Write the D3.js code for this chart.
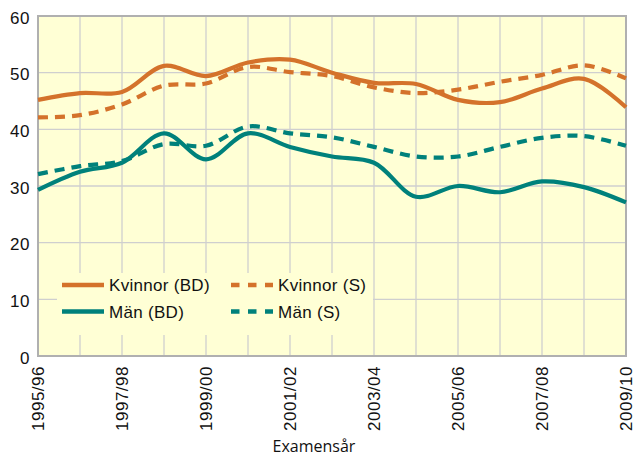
<!DOCTYPE html>
<meta charset="utf-8">
<script src="https://d3js.org/d3.v7.min.js"></script>
<style>
  body { margin: 0; background: #fff; }
  text { font-family: "Liberation Sans", Arial, sans-serif; fill: #111; }
</style>
<div id="chart"></div>
<script>

// data
var years = ["1995/96","1996/97","1997/98","1998/99","1999/00","2000/01","2001/02",
             "2002/03","2003/04","2004/05","2005/06","2006/07","2007/08","2008/09","2009/10"];
var kvinnorBD = [45.2, 46.4, 46.6, 51.2, 49.4, 51.8, 52.3, 50.0, 48.2, 48.0, 45.2, 44.8, 47.2, 48.9, 43.9];
var kvinnorS  = [42.1, 42.5, 44.4, 47.7, 48.1, 51.0, 50.1, 49.4, 47.4, 46.4, 47.0, 48.4, 49.6, 51.3, 49.0];
var manBD     = [29.3, 32.5, 34.1, 39.3, 34.7, 39.3, 36.9, 35.2, 34.1, 28.1, 30.0, 28.9, 30.8, 29.8, 27.1];
var manS      = [32.1, 33.5, 34.4, 37.4, 37.1, 40.5, 39.3, 38.6, 36.9, 35.2, 35.2, 36.9, 38.5, 38.8, 37.1];
var labelYears = ["1995/96","1997/98","1999/00","2001/02","2003/04","2005/06","2007/08","2009/10"];
var yTicks = [0, 10, 20, 30, 40, 50, 60];

var orange = "#d4722b", teal = "#00817b";

var series = [
  {name: "Kvinnor (BD)", values: kvinnorBD, color: orange, dash: null},
  {name: "Kvinnor (S)",  values: kvinnorS,  color: orange, dash: "10,7"},
  {name: "Män (BD)",     values: manBD,     color: teal,   dash: null},
  {name: "Män (S)",      values: manS,      color: teal,   dash: "10,7"}
];

var W = 635, H = 457;
var margin = {top: 16, right: 9, bottom: 101, left: 38},
    width = W - margin.left - margin.right,
    height = H - margin.top - margin.bottom;

var svg = d3.select("#chart").append("svg")
    .attr("width", W).attr("height", H);

var g = svg.append("g")
    .attr("transform", "translate(" + margin.left + "," + margin.top + ")");

var x = d3.scalePoint().domain(years).range([0, width]);
var y = d3.scaleLinear().domain([0, 60]).range([height, 0]);

// plot background
g.append("rect")
  .attr("width", width).attr("height", height)
  .attr("fill", "#ffffd5");

// grid
g.selectAll(".vgrid").data(years).enter().append("line")
  .attr("x1", d => x(d)).attr("x2", d => x(d))
  .attr("y1", 0).attr("y2", height)
  .attr("stroke", "#cfcfcf").attr("stroke-width", 1.3);
g.selectAll(".hgrid").data(yTicks).enter().append("line")
  .attr("x1", 0).attr("x2", width)
  .attr("y1", d => y(d)).attr("y2", d => y(d))
  .attr("stroke", "#cfcfcf").attr("stroke-width", 1.3);

// frame
g.append("rect")
  .attr("width", width).attr("height", height)
  .attr("fill", "none").attr("stroke", "#b0b0b0").attr("stroke-width", 2);

// legend box covers grid
g.append("rect")
  .attr("x", 57 - margin.left).attr("y", 273 - margin.top)
  .attr("width", 316).attr("height", 62)
  .attr("fill", "#ffffd5");

// lines
var line = d3.line()
  .x((d, i) => x(years[i]))
  .y(d => y(d))
  .curve(d3.curveCatmullRom.alpha(0.5));

series.forEach(function(s) {
  g.append("path")
    .attr("d", line(s.values))
    .attr("fill", "none")
    .attr("stroke", s.color)
    .attr("stroke-width", 4.2)
    .attr("stroke-dasharray", s.dash);
});

// y axis labels
g.selectAll(".ylab").data(yTicks).enter().append("text")
  .attr("x", -8).attr("y", d => y(d) + 7.5)
  .attr("text-anchor", "end")
  .style("font-size", "17px").style("letter-spacing", "0.5px")
  .text(d => d);

// x axis labels
g.selectAll(".xlab").data(labelYears).enter().append("text")
  .attr("transform", d => "translate(" + (x(d) + 6) + "," + (height + 10) + ") rotate(-90)")
  .attr("text-anchor", "end")
  .style("font-size", "17px").style("letter-spacing", "0.5px")
  .text(d => d);

svg.append("text")
  .attr("x", 314).attr("y", 452)
  .attr("text-anchor", "middle")
  .style("font-family", "'Open Sans', sans-serif")
  .style("font-size", "16px")
  .text("Examensår");

// legend
var leg = [
  {s: series[0], lx: 62, ly: 285},
  {s: series[1], lx: 231, ly: 285},
  {s: series[2], lx: 62, ly: 311.5},
  {s: series[3], lx: 231, ly: 311.5}
];
leg.forEach(function(l) {
  svg.append("line")
    .attr("x1", l.lx).attr("x2", l.lx + 42)
    .attr("y1", l.ly).attr("y2", l.ly)
    .attr("stroke", l.s.color).attr("stroke-width", 4.6)
    .attr("stroke-dasharray", l.s.dash ? "8.5,8.5" : null);
  svg.append("text")
    .attr("x", l.lx + 47).attr("y", l.ly + 6)
    .style("font-size", "17px").style("letter-spacing", "0.3px")
    .text(l.s.name);
});

</script>
